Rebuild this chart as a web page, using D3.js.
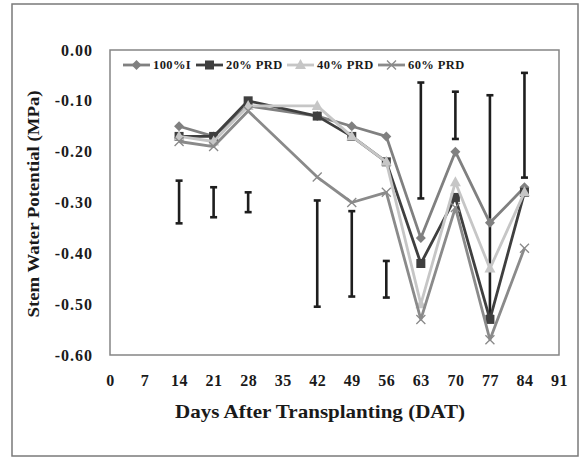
<!DOCTYPE html>
<html>
<head>
<meta charset="utf-8">
<script src="https://cdn.jsdelivr.net/npm/d3@7/dist/d3.min.js"></script>
<style>
  html, body { margin: 0; padding: 0; background: #fff; }
  svg { display: block; }
  text { font-family: "Liberation Serif", "Times New Roman", serif; font-weight: bold; fill: #1a1a1a; }
</style>
</head>
<body>
<svg id="chart" width="581" height="458"></svg>
<script>
// Days after transplanting at which stem water potential was measured
const days = [14, 21, 28, 42, 49, 56, 63, 70, 77, 84];

// Mean stem water potential (MPa) per irrigation treatment
const irr100 = [-0.15, -0.17, -0.11, -0.13, -0.15, -0.17, -0.37, -0.20, -0.34, -0.27];
const prd20  = [-0.17, -0.17, -0.10, -0.13, -0.17, -0.22, -0.42, -0.29, -0.53, -0.28];
const prd40  = [-0.17, -0.18, -0.11, -0.11, -0.17, -0.22, -0.50, -0.26, -0.43, -0.28];
const prd60  = [-0.18, -0.19, -0.12, -0.25, -0.30, -0.28, -0.53, -0.31, -0.57, -0.39];

// Error-bar extents (MPa) for each sampling day
const errHigh = [-0.257, -0.270, -0.280, -0.296, -0.317, -0.415, -0.064, -0.082, -0.089, -0.045];
const errLow  = [-0.341, -0.329, -0.319, -0.505, -0.485, -0.487, -0.292, -0.175, -0.523, -0.251];

// Axis ticks
const xTicks = [0, 7, 14, 21, 28, 35, 42, 49, 56, 63, 70, 77, 84, 91];
const yTicks = [0, -0.1, -0.2, -0.3, -0.4, -0.5, -0.6];

const seriesNames = ["100%I", "20% PRD", "40% PRD", "60% PRD"];
const seriesValues = [irr100, prd20, prd40, prd60];
const seriesColors = ["#808080", "#3f3f3f", "#c6c6c6", "#8a8a8a"];
const seriesMarkers = ["diamond", "square", "triangle", "cross"];

const svg = d3.select("#chart");
const plot = { left: 110, right: 559, top: 50, bottom: 355 };

const x = d3.scaleLinear().domain([0, 91]).range([plot.left, plot.right]);
const y = d3.scaleLinear().domain([-0.6, 0]).range([plot.bottom, plot.top]);

// Outer chart frame
svg.append("rect")
  .attr("x", 12).attr("y", 4).attr("width", 566).attr("height", 452)
  .attr("fill", "#fff").attr("stroke", "#7a7a7a").attr("stroke-width", 1.5);

// Plot-area box
svg.append("rect")
  .attr("x", plot.left).attr("y", plot.top)
  .attr("width", plot.right - plot.left).attr("height", plot.bottom - plot.top)
  .attr("fill", "none").attr("stroke", "#858585").attr("stroke-width", 1.5);

// Axes (labels only, the box provides the lines)
const xAxis = svg.append("g")
  .attr("transform", `translate(0,${plot.bottom})`)
  .call(d3.axisBottom(x).tickValues(xTicks).tickSize(0).tickPadding(20).tickFormat(d3.format("d")));
xAxis.select(".domain").remove();
xAxis.selectAll("text").attr("font-size", 16).attr("font-family", null).attr("fill", "#1a1a1a")
  .attr("letter-spacing", 0.5);

const yAxis = svg.append("g")
  .attr("transform", `translate(${plot.left},0)`)
  .call(d3.axisLeft(y).tickValues(yTicks).tickSize(0).tickPadding(17).tickFormat(d => d3.format(".2f")(d).replace("−", "-")));
yAxis.select(".domain").remove();
yAxis.selectAll("text").attr("font-size", 16).attr("font-family", null).attr("fill", "#1a1a1a")
  .attr("letter-spacing", 1);

// Axis titles
svg.append("text")
  .attr("x", 320).attr("y", 418)
  .attr("text-anchor", "middle").attr("font-size", 19)
  .attr("textLength", 290).attr("lengthAdjust", "spacingAndGlyphs")
  .text("Days After Transplanting (DAT)");

svg.append("text")
  .attr("transform", "translate(39,204) rotate(-90)")
  .attr("text-anchor", "middle").attr("font-size", 17)
  .attr("textLength", 227).attr("lengthAdjust", "spacingAndGlyphs")
  .text("Stem Water Potential (MPa)");

// Error bars
const bars = svg.append("g").attr("stroke", "#1e1e1e").attr("stroke-width", 2.6);
days.forEach((d, i) => {
  const cx = x(d);
  bars.append("line").attr("x1", cx).attr("x2", cx).attr("y1", y(errHigh[i])).attr("y2", y(errLow[i]));
  bars.append("line").attr("x1", cx - 3.5).attr("x2", cx + 3.5).attr("y1", y(errHigh[i])).attr("y2", y(errHigh[i]));
  bars.append("line").attr("x1", cx - 3.5).attr("x2", cx + 3.5).attr("y1", y(errLow[i])).attr("y2", y(errLow[i]));
});

// Marker drawing helper
function drawMarker(g, type, cx, cy, color) {
  if (type === "diamond") {
    g.append("path").attr("d", `M${cx},${cy - 5}L${cx + 5},${cy}L${cx},${cy + 5}L${cx - 5},${cy}Z`).attr("fill", color);
  } else if (type === "square") {
    g.append("rect").attr("x", cx - 4.5).attr("y", cy - 4.5).attr("width", 9).attr("height", 9).attr("fill", color);
  } else if (type === "triangle") {
    g.append("path").attr("d", `M${cx},${cy - 6}L${cx + 5.5},${cy + 4}L${cx - 5.5},${cy + 4}Z`).attr("fill", color);
  } else {
    g.append("path").attr("d", `M${cx - 4.5},${cy - 4.5}L${cx + 4.5},${cy + 4.5}M${cx - 4.5},${cy + 4.5}L${cx + 4.5},${cy - 4.5}`)
      .attr("stroke", color).attr("stroke-width", 1.3).attr("fill", "none");
  }
}

// Series lines and markers
const line = d3.line().x((d, i) => x(days[i])).y(d => y(d));
seriesValues.forEach((vals, s) => {
  const g = svg.append("g");
  g.append("path").datum(vals).attr("d", line)
    .attr("fill", "none").attr("stroke", seriesColors[s]).attr("stroke-width", 2.8)
    .attr("stroke-linejoin", "round");
  vals.forEach((v, i) => drawMarker(g, seriesMarkers[s], x(days[i]), y(v), seriesColors[s]));
});

// Legend
const legendX = [123, 196, 287, 378];
const legend = svg.append("g");
seriesNames.forEach((name, s) => {
  const lx = legendX[s], ly = 65;
  legend.append("line").attr("x1", lx).attr("x2", lx + 27).attr("y1", ly).attr("y2", ly)
    .attr("stroke", seriesColors[s]).attr("stroke-width", 2.8);
  drawMarker(legend, seriesMarkers[s], lx + 13.5, ly, seriesColors[s]);
  legend.append("text").attr("x", lx + 30).attr("y", ly + 4).attr("font-size", 12.5)
    .attr("letter-spacing", 0.4).text(name);
});
</script>
</body>
</html>
